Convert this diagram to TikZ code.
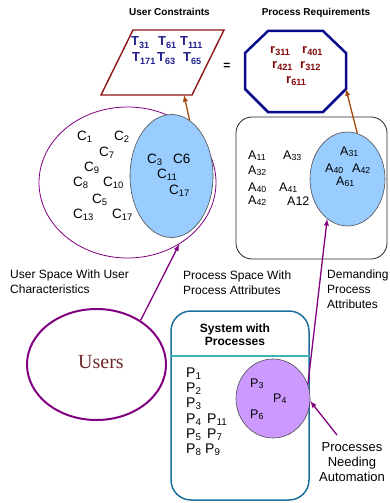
\documentclass[tikz,border=0pt]{standalone}
\usepackage{fontspec}
\setmainfont{Liberation Sans}
\newfontfamily\usersfont{Liberation Serif}
\usepackage{tikz}
\usetikzlibrary{arrows,positioning,shapes.geometric}

\definecolor{ucred}{RGB}{140,22,22}
\definecolor{tblue}{RGB}{30,30,140}
\definecolor{octblue}{RGB}{10,10,140}
\definecolor{rred}{RGB}{130,10,10}
\definecolor{arrbrown}{RGB}{165,70,10}
\definecolor{purp}{RGB}{128,0,128}
\definecolor{skyfill}{RGB}{153,204,255}
\definecolor{lilac}{RGB}{204,153,255}
\definecolor{sysblue}{RGB}{30,110,160}
\definecolor{systeal}{RGB}{60,180,180}
\definecolor{usersbrown}{RGB}{110,40,40}

\tikzset{
  every node/.style={inner sep=0pt},
  clbl/.style={anchor=base west, font=\fontsize{13.5}{16}\selectfont},
  albl/.style={anchor=base west, font=\fontsize{12.5}{15}\selectfont},
  plbl/.style={anchor=base west, font=\fontsize{14}{16}\selectfont},
  tlbl/.style={anchor=base west, text=tblue, font=\bfseries\fontsize{13}{15}\selectfont},
  rlbl/.style={anchor=base west, text=rred, font=\bfseries\fontsize{13}{15}\selectfont},
  ttl/.style={anchor=base, font=\bfseries\fontsize{10}{12}\selectfont},
  note/.style={align=left, anchor=north west, font=\fontsize{12}{15}\selectfont},
  skyset/.style={ellipse, draw=black!70, fill=skyfill, line width=0.6pt},
  brownarrow/.style={draw=arrbrown, line width=1.3pt, -latex},
  purparrow/.style={draw=purp, line width=1.3pt, -latex},
}

\begin{document}
\begin{tikzpicture}[x=1pt,y=-1pt]
    \useasboundingbox (0,0) rectangle (389,503);

    % titles
    \node[ttl] (uctitle) at (169.5,16) {User Constraints};
    \node[ttl] (prtitle) at (316,16) {Process Requirements};

    % user constraints box
    \draw[ucred, line width=1.4pt, line join=miter] (133,30) -- (224,30) -- (192,95) -- (101,95) -- cycle;
    \coordinate (uctip) at (184,95);
    \foreach \s/\x/\y [count=\i] in {31/131/46, 61/158/46, 111/180/46, 171/132/62, 63/157/62, 65/183/62}
        \node[tlbl] (t\i) at (\x,\y) {T\textsubscript{\s}};

    \node[font=\bfseries\fontsize{12}{14}\selectfont] (eq) at (227,66) {=};

    % process requirements octagon
    \draw[octblue, line width=2.5pt, line join=miter] (268,31) -- (323,31) -- (346,53) -- (346,89) coordinate (prtip)
        -- (323,112) -- (268,112) -- (245,89) -- (245,53) -- cycle;
    \foreach \s/\x/\y [count=\i] in {311/270/53, 401/302/53, 421/272/68, 312/300/68, 611/286/83}
        \node[rlbl] (r\i) at (\x,\y) {r\textsubscript{\s}};

    % user space
    \node[ellipse, draw=purp, line width=0.8pt, minimum width=177pt, minimum height=151pt] (userspace) at (127.5,182.5) {};
    \node[skyset, minimum width=83pt, minimum height=123pt] (userblue) at (171.5,176) {};
    \foreach \s/\x/\y [count=\i] in {1/77/140, 2/114/140, 7/99/156, 9/84/171, 8/73/186, 10/103/186, 5/92/203, 13/73/218, 17/112/218}
        \node[clbl] (c\i) at (\x,\y) {C\textsubscript{\s}};
    \node[clbl] (c3) at (147,163) {C\textsubscript{3}};
    \node[clbl] (c6) at (173,163) {C6};
    \node[clbl] (c11) at (157,178) {C\textsubscript{11}};
    \node[clbl] (c17) at (169,194) {C\textsubscript{17}};

    % process space
    \node[draw=black!85, line width=0.8pt, rounded corners=16pt, minimum width=151pt, minimum height=142pt] (procspace) at (311.5,188) {};
    \node[skyset, minimum width=75pt, minimum height=94pt] (procblue) at (347.5,179) {};
    \foreach \s/\x/\y [count=\i] in {11/248/159, 33/283/159, 32/248/174, 40/248/191, 41/279/191, 42/248/204}
        \node[albl] (a\i) at (\x,\y) {A\textsubscript{\s}};
    \node[albl] (a12) at (287,205) {A12};
    \node[albl] (a31) at (340,155) {A\textsubscript{31}};
    \node[albl] (a40) at (325,172) {A\textsubscript{40}};
    \node[albl] (a42) at (352,172) {A\textsubscript{42}};
    \node[albl] (a61) at (336,185) {A\textsubscript{61}};

    % captions
    \node[note, text depth=0pt] (usercap) at (10,269.4) {User Space With User\\Characteristics};
    \node[note] (proccap) at (183,270.4) {Process Space With\\Process Attributes};
    \node[note] (demcap) at (327,269.4) {Demanding\\Process\\Attributes};

    % users
    \node[ellipse, draw=purp, line width=2pt, minimum width=139pt, minimum height=111pt] (users) at (96.5,364.5) {};
    \node[anchor=base, text=usersbrown, font=\usersfont\fontsize{20}{22}\selectfont] (userstxt) at (101,368) {Users};

    % system with processes
    \node[draw=sysblue, line width=1.5pt, rounded corners=20pt, minimum width=138pt, minimum height=189pt] (sysbox) at (240,405.5) {};
    \draw[systeal, line width=1.2pt] (sysbox.west |- 0,356) -- (sysbox.east |- 0,356);
    \node[anchor=north, align=center, font=\bfseries\fontsize{12}{13}\selectfont] (systitle) at (235,323.4) {System with\\Processes};
    \foreach \s/\y [count=\i] in {1/377, 2/392, 3/407, 4/423, 5/438, 8/453}
        \node[plbl] (p\i) at (186,\y) {P\textsubscript{\s}};
    \node[plbl] (p11) at (207,423) {P\textsubscript{11}};
    \node[plbl] (p7) at (207,438) {P\textsubscript{7}};
    \node[plbl] (p9) at (205,453) {P\textsubscript{9}};

    \node[ellipse, draw=black!70, fill=lilac, line width=0.6pt, minimum width=74pt, minimum height=79pt] (lilac) at (273,398.5) {};
    \node[albl] (pa) at (250,387) {P\textsubscript{3}};
    \node[albl] (pb) at (273,402) {P\textsubscript{4}};
    \node[albl] (pc) at (250,418) {P\textsubscript{6}};

    \node[anchor=north, align=center, font=\fontsize{13}{15}\selectfont] (autocap) at (352,442.7) {Processes\\Needing\\Automation};
    \coordinate (autotail) at (337,435);

    % arrows
    \draw[brownarrow] (userblue.72) -- (uctip);
    \draw[brownarrow] (procblue.78) -- (prtip);
    \draw[purparrow] (users.45) -- (userspace.-50);
    \draw[purparrow] (lilac.22) -- (procblue.-117);
    \draw[purparrow] (autotail) -- (lilac.-4);

\end{tikzpicture}
\end{document}
